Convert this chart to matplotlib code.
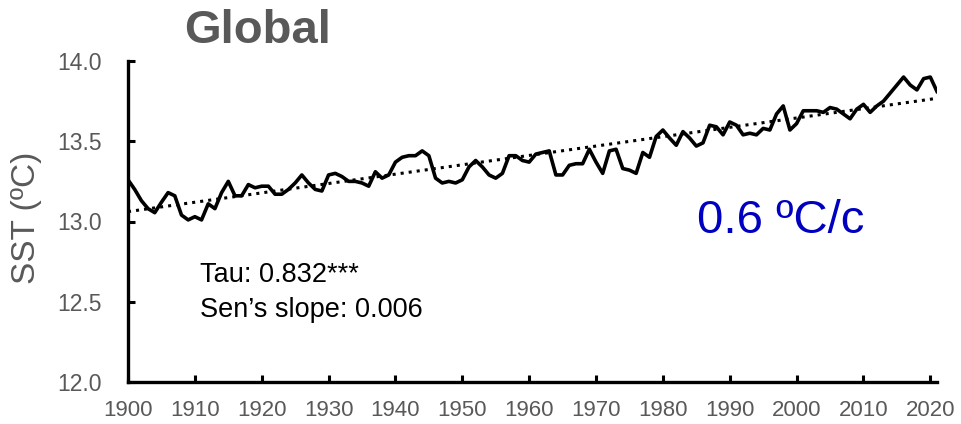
import numpy as np
import matplotlib
matplotlib.use("Agg")
import matplotlib.pyplot as plt

# Annual global mean sea surface temperature, 1900-2021
years = np.arange(1900, 2022)
sst = [
    13.26, 13.20, 13.13, 13.08, 13.055, 13.12, 13.18, 13.16, 13.04, 13.01,  # 1900s
    13.03, 13.01, 13.11, 13.08, 13.18, 13.25, 13.16, 13.16, 13.23, 13.21,   # 1910s
    13.22, 13.22, 13.17, 13.17, 13.20, 13.24, 13.29, 13.24, 13.20, 13.19,   # 1920s
    13.29, 13.30, 13.28, 13.25, 13.25, 13.24, 13.22, 13.31, 13.27, 13.29,   # 1930s
    13.37, 13.40, 13.41, 13.41, 13.44, 13.41, 13.27, 13.24, 13.25, 13.24,   # 1940s
    13.26, 13.34, 13.38, 13.34, 13.29, 13.27, 13.30, 13.41, 13.41, 13.38,   # 1950s
    13.37, 13.42, 13.43, 13.44, 13.29, 13.29, 13.35, 13.36, 13.36, 13.45,   # 1960s
    13.37, 13.30, 13.44, 13.45, 13.33, 13.32, 13.30, 13.43, 13.40, 13.53,   # 1970s
    13.57, 13.52, 13.475, 13.56, 13.52, 13.47, 13.49, 13.60, 13.59, 13.54,  # 1980s
    13.62, 13.60, 13.54, 13.55, 13.54, 13.58, 13.57, 13.67, 13.72, 13.57,   # 1990s
    13.61, 13.69, 13.69, 13.69, 13.68, 13.71, 13.70, 13.67, 13.64, 13.70,   # 2000s
    13.73, 13.68, 13.72, 13.75, 13.80, 13.85, 13.90, 13.85, 13.82, 13.89,   # 2010s
    13.90, 13.81,                                                           # 2020s
]
sst = np.array(sst)

title = "Global"
ylabel = "SST (ºC)"
stats_lines = ["Tau: 0.832***", "Sen\u2019s slope: 0.006"]
rate_label = "0.6 ºC/c"
xticks = np.arange(1900, 2021, 10)
yticks = [12.0, 12.5, 13.0, 13.5, 14.0]

# Theil-Sen trend line
i, j = np.triu_indices(len(years), k=1)
slope = np.median((sst[j] - sst[i]) / (years[j] - years[i]))
intercept = np.median(sst - slope * years)
trend = intercept + slope * years

plt.rcParams["font.family"] = ["Liberation Sans", "DejaVu Sans"]
gray = "#595959"

fig = plt.figure(figsize=(9.61, 4.24), dpi=100)
ax = fig.add_axes([128 / 961, 1 - 382 / 424, (937 - 128) / 961, (382 - 61) / 424])

ax.plot(years, sst, color="black", lw=2.6, solid_joinstyle="round")
ax.plot(years, trend, color="black", lw=2.2, ls=":")

ax.set_xlim(1900, 2021)
ax.set_ylim(12.0, 14.0)
ax.set_xticks(xticks)
ax.set_yticks(yticks)
ax.set_yticklabels([f"{v:.1f}" for v in yticks])
ax.tick_params(direction="in", length=5, width=2.2, colors="black",
               labelcolor=gray)
ax.tick_params(axis="x", pad=13, labelsize=16)
ax.tick_params(axis="y", pad=19, labelsize=16.5)
for s in ("top", "right"):
    ax.spines[s].set_visible(False)
for s in ("left", "bottom"):
    ax.spines[s].set_linewidth(2.4)

fig.text(27 / 961, 1 - 218 / 424, ylabel, fontsize=24, color=gray,
         rotation=90, ha="center", va="center")

fig.text(258 / 961, 1 - 31 / 424, title, fontsize=34, fontweight="bold",
         color=gray, ha="center", va="center")
fig.text(200 / 961, 1 - 282 / 424, stats_lines[0], fontsize=19.5,
         color="black", ha="left", va="baseline")
fig.text(200 / 961, 1 - 317 / 424, stats_lines[1], fontsize=19.5,
         color="black", ha="left", va="baseline")
fig.text(697 / 961, 1 - 233 / 424, rate_label, fontsize=34,
         color="#0000C0", ha="left", va="baseline")

fig.savefig("out.png", dpi=100)
